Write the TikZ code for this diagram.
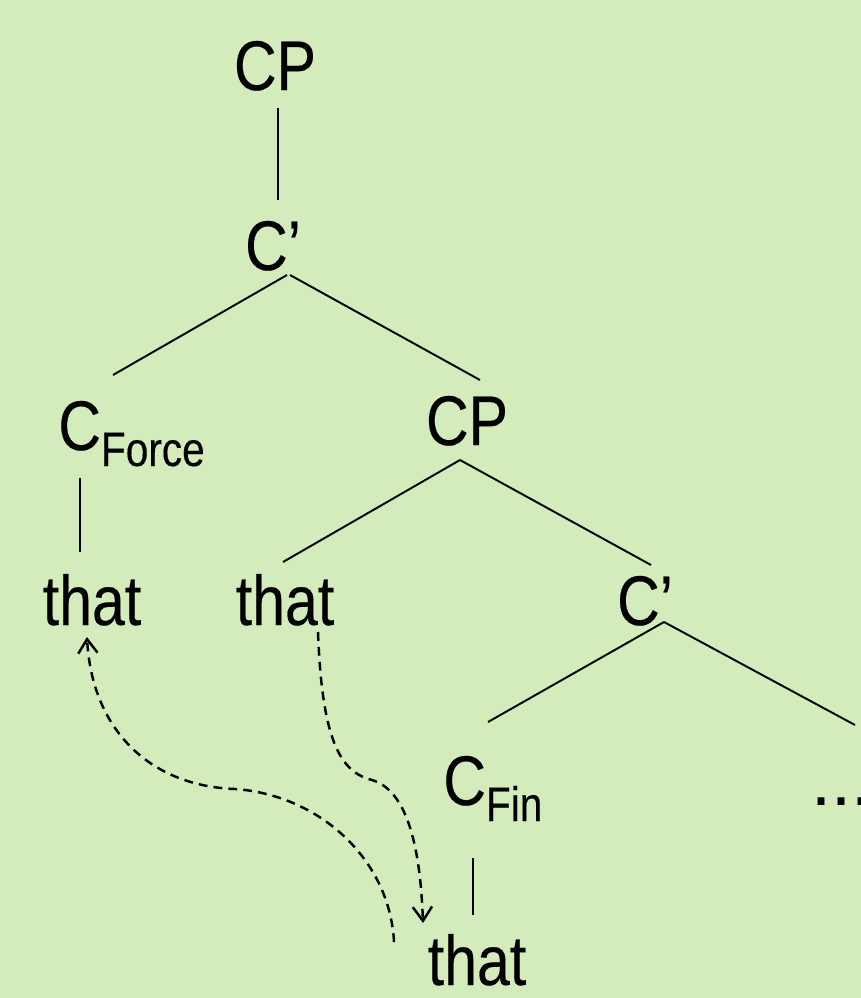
\documentclass[tikz,border=0pt]{standalone}
\usepackage{fontspec}
\usetikzlibrary{arrows.meta}
\newfontfamily\treefont[FakeStretch=0.84,FakeBold=0.3]{Liberation Sans}
\newfontfamily\dotfont{Liberation Sans}
\definecolor{panel}{HTML}{D4EBBC}
\newcommand{\subtxt}[1]{\raisebox{-0.32cm}{\fontsize{27.5}{29}\selectfont #1}}

\begin{document}
\begin{tikzpicture}[x=0.02cm,y=-0.02cm,
  lbl/.style={inner sep=0pt,anchor=base,font=\treefont\fontsize{40}{44}\selectfont},
  branch/.style={line width=1.1pt},
  move/.style={line width=1.4pt,dash pattern=on 5pt off 3.5pt,-{Straight Barb[length=8pt,width=11pt]}}]
  \useasboundingbox (0,0) rectangle (861,998);
  \fill[panel] (0,0) rectangle (861,998);
  % tree nodes
  \node[lbl] (cpA) at (275,90) {CP};
  \node[lbl] (cbA) at (273,270) {C’};
  \node[lbl,anchor=base west] (cforce) at (58,450) {C\subtxt{Force}};
  \node[lbl] (cpB) at (467,445) {CP};
  \node[lbl] (thatA) at (92,625) {that};
  \node[lbl] (thatB) at (285,625) {that};
  \node[lbl] (cbB) at (645,625) {C’};
  \node[lbl,anchor=base west] (cfin) at (443,805) {C\subtxt{Fin}};
  \node[lbl,anchor=base west,font=\dotfont\fontsize{41}{44}\selectfont] (dots) at (811,805) {...};
  \node[lbl] (thatC) at (477,985) {that};
  \coordinate (offR) at (855,725);
  % branches
  \draw[branch] ([shift={(3,18)}]cpA.base) -- ([shift={(5,-70)}]cbA.base);
  \draw[branch] ([shift={(14,5)}]cbA.base) -- ([shift={(55,-75)}]cforce.base west);
  \draw[branch] ([shift={(17,5)}]cbA.base) -- ([shift={(13,-65)}]cpB.base);
  \draw[branch] ([shift={(22,28)}]cforce.base west) -- ([shift={(-12,-73)}]thatA.base);
  \draw[branch] ([shift={(-7,15)}]cpB.base) -- ([shift={(-2,-63)}]thatB.base);
  \draw[branch] ([shift={(-7,15)}]cpB.base) -- ([shift={(6,-60)}]cbB.base);
  \draw[branch] ([shift={(19,-3)}]cbB.base) -- ([shift={(45,-83)}]cfin.base west);
  \draw[branch] ([shift={(19,-3)}]cbB.base) -- (offR);
  \draw[branch] ([shift={(30,53)}]cfin.base west) -- ([shift={(-4,-70)}]thatC.base);
  % movement
  \draw[move] ([shift={(-83,-43)}]thatC.base) .. controls (390,860) and (320,795) .. (235,789)
    .. controls (150,786) and (92,730) .. ([shift={(-5,12)}]thatA.base);
  \draw[move] ([shift={(33,7)}]thatB.base) .. controls (322,740) and (340,772) .. (372,780)
    .. controls (405,790) and (420,840) .. ([shift={(-54,-62)}]thatC.base);
\end{tikzpicture}
\end{document}
